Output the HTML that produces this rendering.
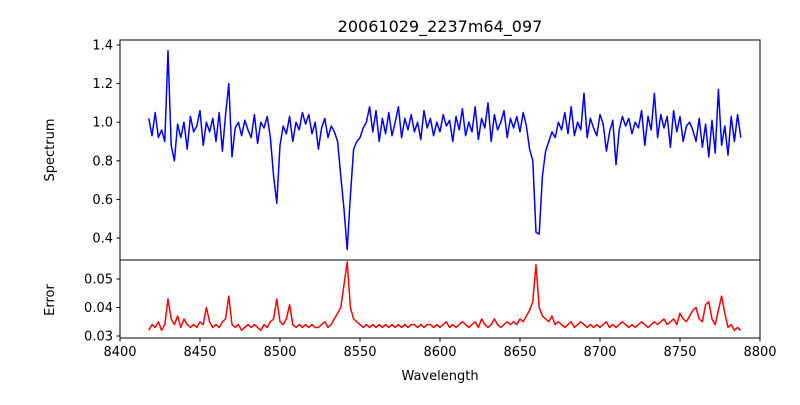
<!DOCTYPE html>
<html><head><meta charset="utf-8"><style>
body{margin:0;background:#fff;font-family:"Liberation Sans","DejaVu Sans",sans-serif;}
svg text{font-family:"DejaVu Sans","Liberation Sans",sans-serif;fill:#000;}
</style></head><body>
<svg id="c" width="800" height="400" viewBox="0 0 800 400">
<rect width="800" height="400" fill="#fff"/>
<text x="440" y="32" font-size="16" text-anchor="middle">20061029_2237m64_097</text>
<g id="g"></g>
</svg>
<script>
const wlStart = 8418, wlStep = 2;
const spectrum = [
1.02,0.93,1.05,0.92,0.96,0.90,1.37,0.88,0.80,0.99,
0.92,1.00,0.86,1.03,0.95,0.98,1.06,0.88,1.00,0.95,
1.02,0.90,1.05,0.85,1.04,1.20,0.82,0.97,1.00,0.93,
1.01,0.96,0.92,1.04,0.89,1.00,0.97,1.03,0.92,0.72,
0.58,0.88,0.98,0.94,1.03,0.90,1.00,0.96,1.05,0.99,
1.04,0.94,1.00,0.86,0.97,1.02,0.92,0.98,0.95,0.90,
0.72,0.55,0.34,0.62,0.86,0.90,0.92,0.97,1.00,1.08,
0.95,1.06,0.90,1.02,0.94,1.05,0.93,1.00,1.08,0.92,
1.02,0.96,1.04,0.95,1.00,0.91,1.06,0.97,1.02,0.93,
1.00,0.95,1.04,0.98,1.01,0.90,1.03,0.96,1.07,0.93,
1.00,0.95,1.08,0.91,1.02,0.97,1.10,0.90,1.04,0.96,
1.00,1.06,0.92,1.02,0.97,1.03,0.95,1.05,0.98,0.86,
0.80,0.43,0.42,0.72,0.85,0.90,0.95,0.92,1.00,0.96,
1.05,0.94,1.08,0.93,1.00,0.96,1.15,0.92,1.02,0.97,
0.93,1.04,0.99,0.85,0.95,1.01,0.78,0.96,1.03,0.98,
1.02,0.94,1.00,0.97,1.06,0.88,1.03,0.96,1.15,0.92,
1.04,0.97,1.03,0.87,1.06,0.95,1.03,0.90,0.98,1.00,
0.96,0.90,1.02,0.87,0.99,0.82,1.01,0.84,1.17,0.88,
0.98,0.83,1.03,0.90,1.04,0.92];
const errors = [
.032,.034,.033,.035,.032,.034,.043,.036,.034,.037,
.033,.036,.034,.033,.034,.033,.035,.034,.040,.035,
.033,.034,.033,.035,.036,.044,.034,.033,.034,.032,
.033,.034,.033,.034,.033,.032,.034,.033,.035,.036,
.043,.035,.034,.036,.041,.034,.033,.034,.033,.034,
.033,.034,.033,.033,.034,.035,.033,.034,.036,.038,
.040,.048,.056,.040,.036,.035,.034,.033,.034,.033,
.034,.033,.034,.033,.034,.033,.034,.033,.034,.033,
.034,.033,.034,.034,.033,.034,.033,.034,.034,.033,
.034,.033,.034,.035,.033,.034,.033,.034,.035,.034,
.033,.034,.035,.033,.036,.034,.033,.034,.036,.034,
.033,.034,.035,.034,.035,.034,.036,.035,.037,.039,
.042,.055,.040,.037,.036,.035,.037,.034,.035,.034,
.033,.034,.035,.033,.034,.035,.034,.033,.034,.033,
.034,.033,.034,.035,.033,.034,.033,.034,.035,.034,
.033,.034,.033,.034,.035,.034,.033,.034,.035,.034,
.035,.036,.034,.035,.036,.034,.038,.036,.035,.037,
.039,.040,.036,.035,.041,.042,.036,.034,.039,.044,
.038,.033,.034,.032,.033,.032];
const xTicks = [8400,8450,8500,8550,8600,8650,8700,8750,8800];
const specTicks = [0.4,0.6,0.8,1.0,1.2,1.4];
const errTicks = [0.03,0.04,0.05];

const NS='http://www.w3.org/2000/svg';
const g=document.getElementById('g');
const L=120,R=760,T1=40,B1=260,B2=338;
const xs=w=>L+(w-8400)*1.6;
const ys=v=>238-(v-0.4)*193;
const ye=v=>336-(v-0.03)*2850;
function el(t,a){const e=document.createElementNS(NS,t);for(const k in a)e.setAttribute(k,a[k]);g.appendChild(e);return e;}
function txt(x,y,s,anchor,size){const e=el('text',{x:x,y:y,'font-size':size||13,'text-anchor':anchor});e.textContent=s;return e;}

let p1='',p2='';
spectrum.forEach((v,i)=>{p1+=(i?'L':'M')+xs(wlStart+i*wlStep).toFixed(2)+' '+ys(v).toFixed(2);});
errors.forEach((v,i)=>{p2+=(i?'L':'M')+xs(wlStart+i*wlStep).toFixed(2)+' '+ye(v).toFixed(2);});
let l1=el('path',{d:p1,fill:'none',stroke:'#0000ff','stroke-width':1.5,'stroke-linejoin':'round'});


let l2=el('path',{d:p2,fill:'none',stroke:'#ff0000','stroke-width':1.5,'stroke-linejoin':'round'});



let f1=el('rect',{x:L,y:T1,width:R-L,height:B1-T1,fill:'none',stroke:'#000','stroke-width':1});


let f2=el('rect',{x:L,y:B1,width:R-L,height:B2-B1,fill:'none',stroke:'#000','stroke-width':1});



specTicks.forEach(v=>{const y=ys(v);el('line',{x1:L-3.5,x2:L,y1:y,y2:y,stroke:'#000'});
 const t=txt(L-7,y+4.5,v.toFixed(1),'end');
 
 });
errTicks.forEach(v=>{const y=ye(v);el('line',{x1:L-3.5,x2:L,y1:y,y2:y,stroke:'#000'});
 const t=txt(L-7,y+4.5,v.toFixed(2),'end');
 
 });
xTicks.forEach(v=>{const x=xs(v);el('line',{x1:x,x2:x,y1:B2,y2:B2+3.5,stroke:'#000'});
 const t=txt(x,B2+18,String(v),'middle');
 
 });

let xt=txt(440,380,'Wavelength','middle');


let yt1=txt(0,0,'Spectrum','middle');yt1.setAttribute('transform','translate(54,150) rotate(-90)');


let yt2=txt(0,0,'Error','middle');yt2.setAttribute('transform','translate(54,300) rotate(-90)');


</script>
</body></html>
